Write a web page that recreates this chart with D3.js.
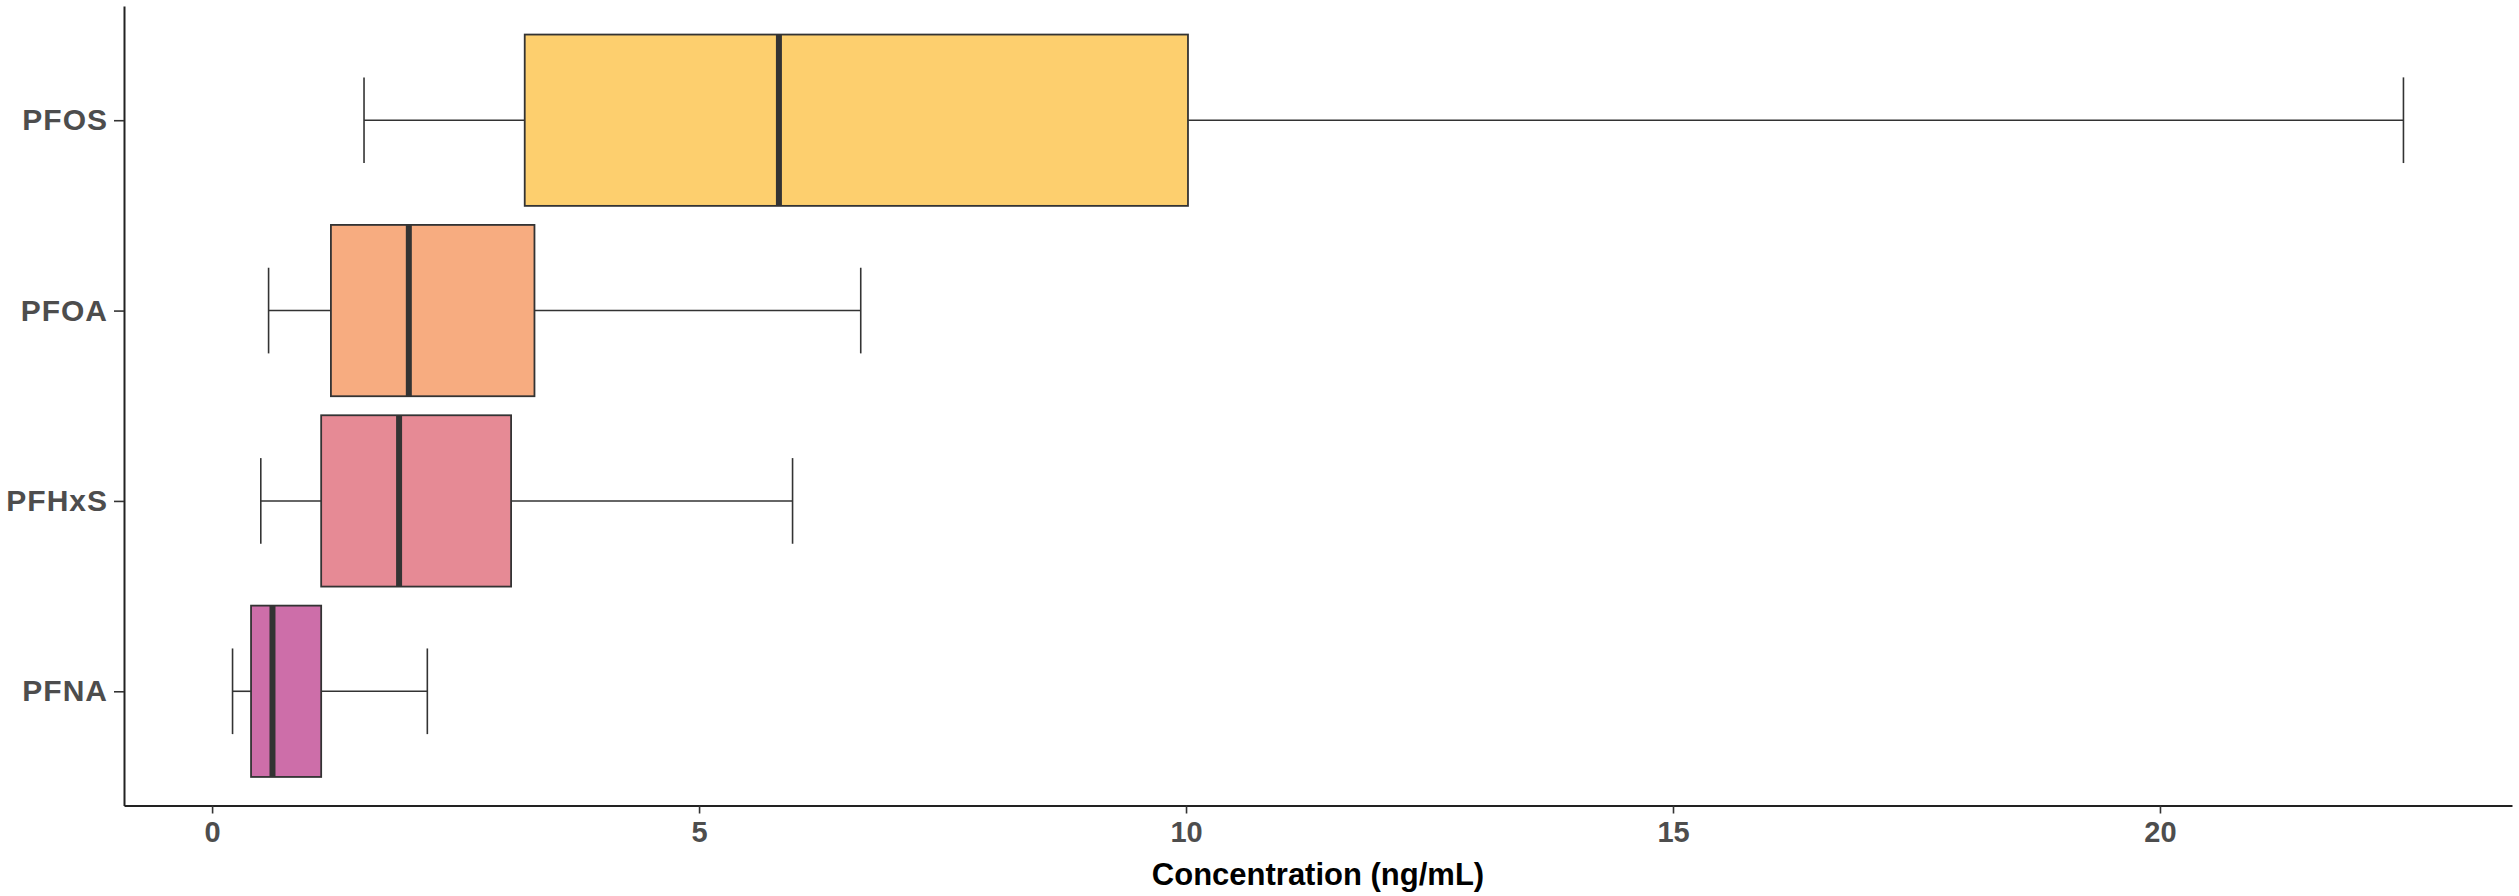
<!DOCTYPE html>
<html>
<head>
<meta charset="utf-8">
<script src="https://cdn.jsdelivr.net/npm/d3@7"></script>
<style>
  html, body { margin: 0; padding: 0; background: #ffffff; }
  svg { display: block; font-family: Arial, "Liberation Sans", sans-serif; }
</style>
</head>
<body>
<svg id="chart" width="2519" height="896"></svg>
<script>
// Per-compound box summary: lower whisker, Q1, median, Q3, upper whisker (ng/mL)
const compounds = ["PFNA", "PFHxS", "PFOA", "PFOS"];
const whiskerLow  = [0.21, 0.50, 0.58, 1.56];
const quartile1   = [0.40, 1.12, 1.22, 3.21];
const medians     = [0.62, 1.92, 2.02, 5.82];
const quartile3   = [1.12, 3.07, 3.31, 10.02];
const whiskerHigh = [2.21, 5.96, 6.66, 22.50];
const fills       = ["#CD6EA9", "#E68A95", "#F7AC80", "#FDCF6E"];
const xTicks      = [0, 5, 10, 15, 20];
const xTitle      = "Concentration (ng/mL)";

const rows = compounds.map((name, i) => ({
  name,
  lo: whiskerLow[i], q1: quartile1[i], med: medians[i],
  q3: quartile3[i], hi: whiskerHigh[i], fill: fills[i]
}));

const panel = { left: 124, right: 2512, top: 6, bottom: 805.5 };
const svg = d3.select("#chart");

// Continuous x scale padded by 5% of the data range on each side
const lo = d3.min(whiskerLow), hi = d3.max(whiskerHigh);
const pad = (hi - lo) * 0.05;
const x = d3.scaleLinear().domain([lo - pad, hi + pad]).range([panel.left, panel.right]);

// Discrete y positions with 0.6 units of padding at both ends
const yPos = d3.scaleLinear()
  .domain([0.4, compounds.length + 0.6])
  .range([panel.bottom, panel.top]);
const yOf = name => yPos(compounds.indexOf(name) + 1);
const unit = Math.abs(yPos(1) - yPos(0));
const boxH = unit * 0.9;
const capH = unit * 0.45;

const g = svg.append("g");

// Whiskers with end caps
const wk = g.selectAll(".whisker").data(rows).join("g").attr("class", "whisker")
  .attr("stroke", "#333333").attr("stroke-width", 1.6).attr("fill", "none");
wk.append("line")
  .attr("x1", d => x(d.lo)).attr("x2", d => x(d.q1))
  .attr("y1", d => yOf(d.name)).attr("y2", d => yOf(d.name));
wk.append("line")
  .attr("x1", d => x(d.q3)).attr("x2", d => x(d.hi))
  .attr("y1", d => yOf(d.name)).attr("y2", d => yOf(d.name));
wk.append("line")
  .attr("x1", d => x(d.lo)).attr("x2", d => x(d.lo))
  .attr("y1", d => yOf(d.name) - capH / 2).attr("y2", d => yOf(d.name) + capH / 2);
wk.append("line")
  .attr("x1", d => x(d.hi)).attr("x2", d => x(d.hi))
  .attr("y1", d => yOf(d.name) - capH / 2).attr("y2", d => yOf(d.name) + capH / 2);

// Boxes
g.selectAll(".box").data(rows).join("rect").attr("class", "box")
  .attr("x", d => x(d.q1))
  .attr("width", d => x(d.q3) - x(d.q1))
  .attr("y", d => yOf(d.name) - boxH / 2)
  .attr("height", boxH)
  .attr("fill", d => d.fill)
  .attr("stroke", "#333333")
  .attr("stroke-width", 1.8);

// Median lines
g.selectAll(".median").data(rows).join("line").attr("class", "median")
  .attr("x1", d => x(d.med)).attr("x2", d => x(d.med))
  .attr("y1", d => yOf(d.name) - boxH / 2).attr("y2", d => yOf(d.name) + boxH / 2)
  .attr("stroke", "#333333").attr("stroke-width", 6);

// X axis
const xAxis = svg.append("g")
  .attr("transform", `translate(0,${panel.bottom})`)
  .call(d3.axisBottom(x).tickValues(xTicks).tickSize(8).tickPadding(8).tickSizeOuter(0));
xAxis.select(".domain").attr("stroke", "#222222").attr("stroke-width", 2);
xAxis.selectAll(".tick line").attr("stroke", "#333333").attr("stroke-width", 1.6);
xAxis.selectAll(".tick text")
  .attr("fill", "#4D4D4D").attr("font-size", 29).attr("font-weight", "bold");

// Y axis
const yAxis = svg.append("g")
  .attr("transform", `translate(${panel.left},0)`)
  .call(d3.axisLeft(yPos).tickValues(d3.range(1, compounds.length + 1))
    .tickFormat(i => compounds[i - 1]).tickSize(10).tickPadding(6).tickSizeOuter(0));
yAxis.select(".domain").attr("stroke", "#222222").attr("stroke-width", 2);
yAxis.selectAll(".tick line").attr("stroke", "#333333").attr("stroke-width", 1.6);
yAxis.selectAll(".tick text")
  .attr("fill", "#4D4D4D").attr("font-size", 30).attr("font-weight", "bold")
  .attr("letter-spacing", 1);

// Axis title
svg.append("text")
  .attr("x", (panel.left + panel.right) / 2)
  .attr("y", 885)
  .attr("text-anchor", "middle")
  .attr("font-size", 31)
  .attr("font-weight", "bold")
  .attr("fill", "#000000")
  .text(xTitle);
</script>
</body>
</html>
